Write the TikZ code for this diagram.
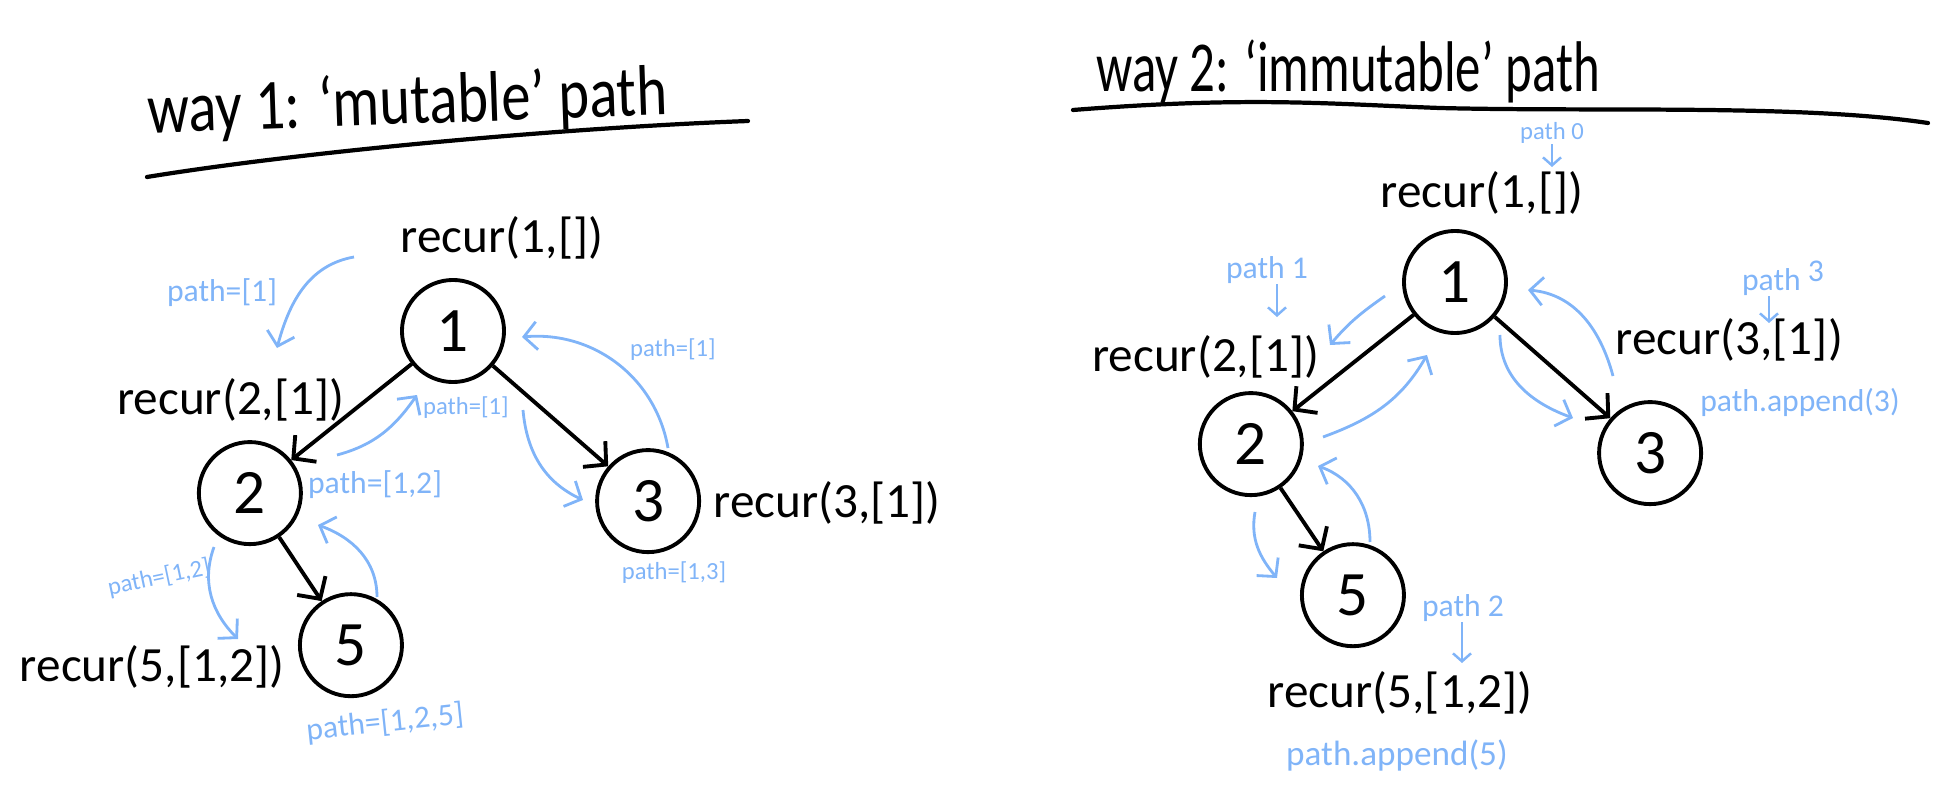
\documentclass[tikz,border=0pt]{standalone}
\usepackage{fontspec}
\setmainfont{Carlito}
\usetikzlibrary{
    arrows.meta,
    positioning
}
\definecolor{pen}{RGB}{128,180,248}

\begin{document}
\begin{tikzpicture}[
    x=0.01cm, y=-0.01cm,
    node distance=1.6cm,
    vertex/.style={circle, draw=black, line width=1.1pt, minimum size=1.02cm,
                   inner sep=0pt, font=\fontsize{18}{20}\selectfont},
    call/.style={font=\fontsize{14}{16}\selectfont, inner sep=0pt},
    heading/.style={font=\fontsize{17}{20}\selectfont, anchor=base, inner sep=0pt},
    note/.style={text=pen, font=\fontsize{9}{10}\selectfont, inner sep=0pt},
    smallnote/.style={text=pen, font=\fontsize{7}{8}\selectfont, inner sep=0pt},
    link/.style={line width=1.1pt, -{Straight Barb[length=1.6mm, width=3.4mm]}},
    flow/.style={draw=pen, line width=0.8pt, -{Straight Barb[length=1.3mm, width=2.8mm]}},
    hint/.style={draw=pen, line width=0.7pt, -{Straight Barb[length=0.8mm, width=1.8mm]}},
    rule/.style={line width=1.2pt, line cap=round}
]
    \useasboundingbox (0,0) rectangle (1938,806);

    % Headings
    \node (t1) [heading, rotate=2] at (408,124) {\scalebox{0.98}[1.2]{way 1: `mutable' path}};
    \node (t2) [heading] at (1348,91) {\scalebox{0.85}[1.2]{way 2: `immutable' path}};
    \draw [rule] (147,177) .. controls (300,152) and (560,128) .. (748,121);
    \draw [rule] (1073,110) .. controls (1250,96) and (1330,104) .. (1440,108)
                 .. controls (1600,112) and (1800,104) .. (1928,123);

    % Left tree
    \node (l1) [vertex] at (453,331) {1};
    \node (l2) [vertex, below of=l1, xshift=-2.03cm, yshift=-0.02cm] {2};
    \node (l3) [vertex, below of=l1, xshift=1.95cm, yshift=-0.1cm] {3};
    \node (l5) [vertex, below of=l2, xshift=1.01cm, yshift=0.08cm] {5};

    \node (c1) [call] at (502,238) {recur(1,[])};
    \node (c2) [call, anchor=east] at (345,400) {recur(2,[1])};
    \node (c3) [call, anchor=west] at (713,503) {recur(3,[1])};
    \node (c5) [call, anchor=east] at (285,667) {recur(5,[1,2])};

    \node (n1) [note] at (222,293) {path=[1]};
    \node (n2) [smallnote] at (673,350) {path=[1]};
    \node (n3) [smallnote] at (466,408) {path=[1]};
    \node (n4) [note] at (375,485) {path=[1,2]};
    \node (n5) [smallnote] at (674,573) {path=[1,3]};
    \node (n6) [smallnote, rotate=12] at (159,578) {path=[1,2]};
    \node (n7) [note, rotate=6] at (385,723) {path=[1,2,5]};

    % Right tree
    \node (r1) [vertex] at (1455,282) {1};
    \node (r2) [vertex, below of=r1, xshift=-2.04cm, yshift=-0.02cm] {2};
    \node (r3) [vertex, below of=r1, xshift=1.95cm, yshift=-0.11cm] {3};
    \node (r5) [vertex, below of=r2, xshift=1.02cm, yshift=0.09cm] {5};

    \node (d1) [call] at (1482,193) {recur(1,[])};
    \node (d2) [call, anchor=east] at (1320,357) {recur(2,[1])};
    \node (d3) [call, anchor=west] at (1615,340) {recur(3,[1])};
    \node (d5) [call] at (1400,693) {recur(5,[1,2])};

    \node (m0) [smallnote] at (1552,133) {path 0};
    \node (m1) [note] at (1267,270) {path 1};
    \node (m3) [note] at (1783,278) {path \raisebox{0.6ex}{3}};
    \node (m2) [note] at (1463,608) {path 2};
    \node (m4) [note] at (1800,402) {path.append(3)};
    \node (m5) [note, font=\fontsize{10}{12}\selectfont] at (1397,755) {path.append(5)};

    % Arrow ends
    \coordinate (a1s) at (354,257);  \coordinate (a1e) at (277,348);
    \coordinate (a2s) at (337,455);  \coordinate (a2e) at (417,395);
    \coordinate (a3s) at (523,410);  \coordinate (a3e) at (583,500);
    \coordinate (a4s) at (668,448);  \coordinate (a4e) at (522,337);
    \coordinate (a5s) at (214,547);  \coordinate (a5e) at (238,639);
    \coordinate (a6s) at (377,597);  \coordinate (a6e) at (318,525);
    \coordinate (b1s) at (1385,296); \coordinate (b1e) at (1330,345);
    \coordinate (b2s) at (1323,437); \coordinate (b2e) at (1427,355);
    \coordinate (b3s) at (1500,335); \coordinate (b3e) at (1573,418);
    \coordinate (b4s) at (1613,376); \coordinate (b4e) at (1528,290);
    \coordinate (b5s) at (1255,512); \coordinate (b5e) at (1277,578);
    \coordinate (b6s) at (1370,542); \coordinate (b6e) at (1318,466);
    \coordinate (h0) at (1552,167);
    \coordinate (h1) at (1277,317);
    \coordinate (h3) at (1769,323);
    \coordinate (h2) at (1462,663);

    % Arrows
    \draw [link] (l1) -- (l2);
    \draw [link] (l1) -- (l3);
    \draw [link] (l2) -- (l5);
    \draw [link] (r1) -- (r2);
    \draw [link] (r1) -- (r3);
    \draw [link] (r2) -- (r5);

    \draw [flow] (a1s) to[out=190, in=75] (a1e);
    \draw [flow] (a2s) to[out=15, in=235] (a2e);
    \draw [flow] (a3s) to[out=-85, in=155] (a3e);
    \draw [flow] (a4s) to[out=100, in=5] (a4e);
    \draw [flow] (a5s) to[out=250, in=135] (a5e);
    \draw [flow] (a6s) to[out=90, in=-20] (a6e);
    \draw [flow] (b1s) to[out=215, in=50] (b1e);
    \draw [flow] (b2s) to[out=20, in=240] (b2e);
    \draw [flow] (b3s) to[out=-90, in=160] (b3e);
    \draw [flow] (b4s) to[out=105, in=-5] (b4e);
    \draw [flow] (b5s) to[out=260, in=130] (b5e);
    \draw [flow] (b6s) to[out=90, in=-20] (b6e);

    \draw [hint] (m0.south -| h0) -- (h0);
    \draw [hint] (m1.south -| h1) -- (h1);
    \draw [hint] (m3.south -| h3) -- (h3);
    \draw [hint] (m2.south -| h2) -- (h2);

\end{tikzpicture}
\end{document}
